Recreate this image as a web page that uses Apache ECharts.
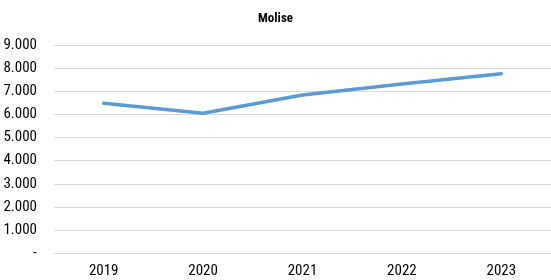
<!DOCTYPE html>
<html>
<head>
<meta charset="utf-8">
<script src="https://cdn.jsdelivr.net/npm/echarts@6/dist/echarts.min.js"></script>
<style>
  html, body { margin: 0; padding: 0; background: #fff; }
  #chart { width: 551px; height: 280px; }
</style>
</head>
<body>
<div id="chart"></div>
<script>
const years = ['2019', '2020', '2021', '2022', '2023']
const valori = [6480, 6050, 6840, 7310, 7760]

const font = 'Roboto, sans-serif'

// formato italiano: 9.000, zero come "-"
function fmt(v) {
  if (v === 0) return '-'
  return String(v).replace(/\B(?=(\d{3})+(?!\d))/g, '.')
}

const myChart = echarts.init(document.getElementById('chart'))
myChart.setOption({
  animation: false,
  title: {
    text: 'Molise',
    left: 'center',
    top: 7,
    textStyle: { fontFamily: font, fontStyle: 'condensed', fontSize: 13, fontWeight: 'bold', color: '#000' }
  },
  grid: { left: 54, top: 45, width: 502, height: 208.3 },
  xAxis: {
    type: 'category',
    data: years,
    boundaryGap: true,
    axisLine: { show: false },
    axisTick: { show: false },
    axisLabel: { fontFamily: font, fontStyle: 'condensed', fontSize: 15, color: '#000', margin: 10 }
  },
  yAxis: {
    type: 'value',
    min: 0,
    max: 9000,
    interval: 1000,
    axisLine: { show: false },
    axisTick: { show: false },
    splitLine: { lineStyle: { color: '#d9d9d9', width: 1 } },
    axisLabel: { fontFamily: font, fontStyle: 'condensed', fontSize: 15, color: '#000', margin: 17, formatter: fmt }
  },
  series: [
    {
      name: 'Molise',
      type: 'line',
      data: valori,
      symbol: 'none',
      lineStyle: { color: '#5b9bd5', width: 3.5, cap: 'round', join: 'round' }
    }
  ]
})
</script>
</body>
</html>
